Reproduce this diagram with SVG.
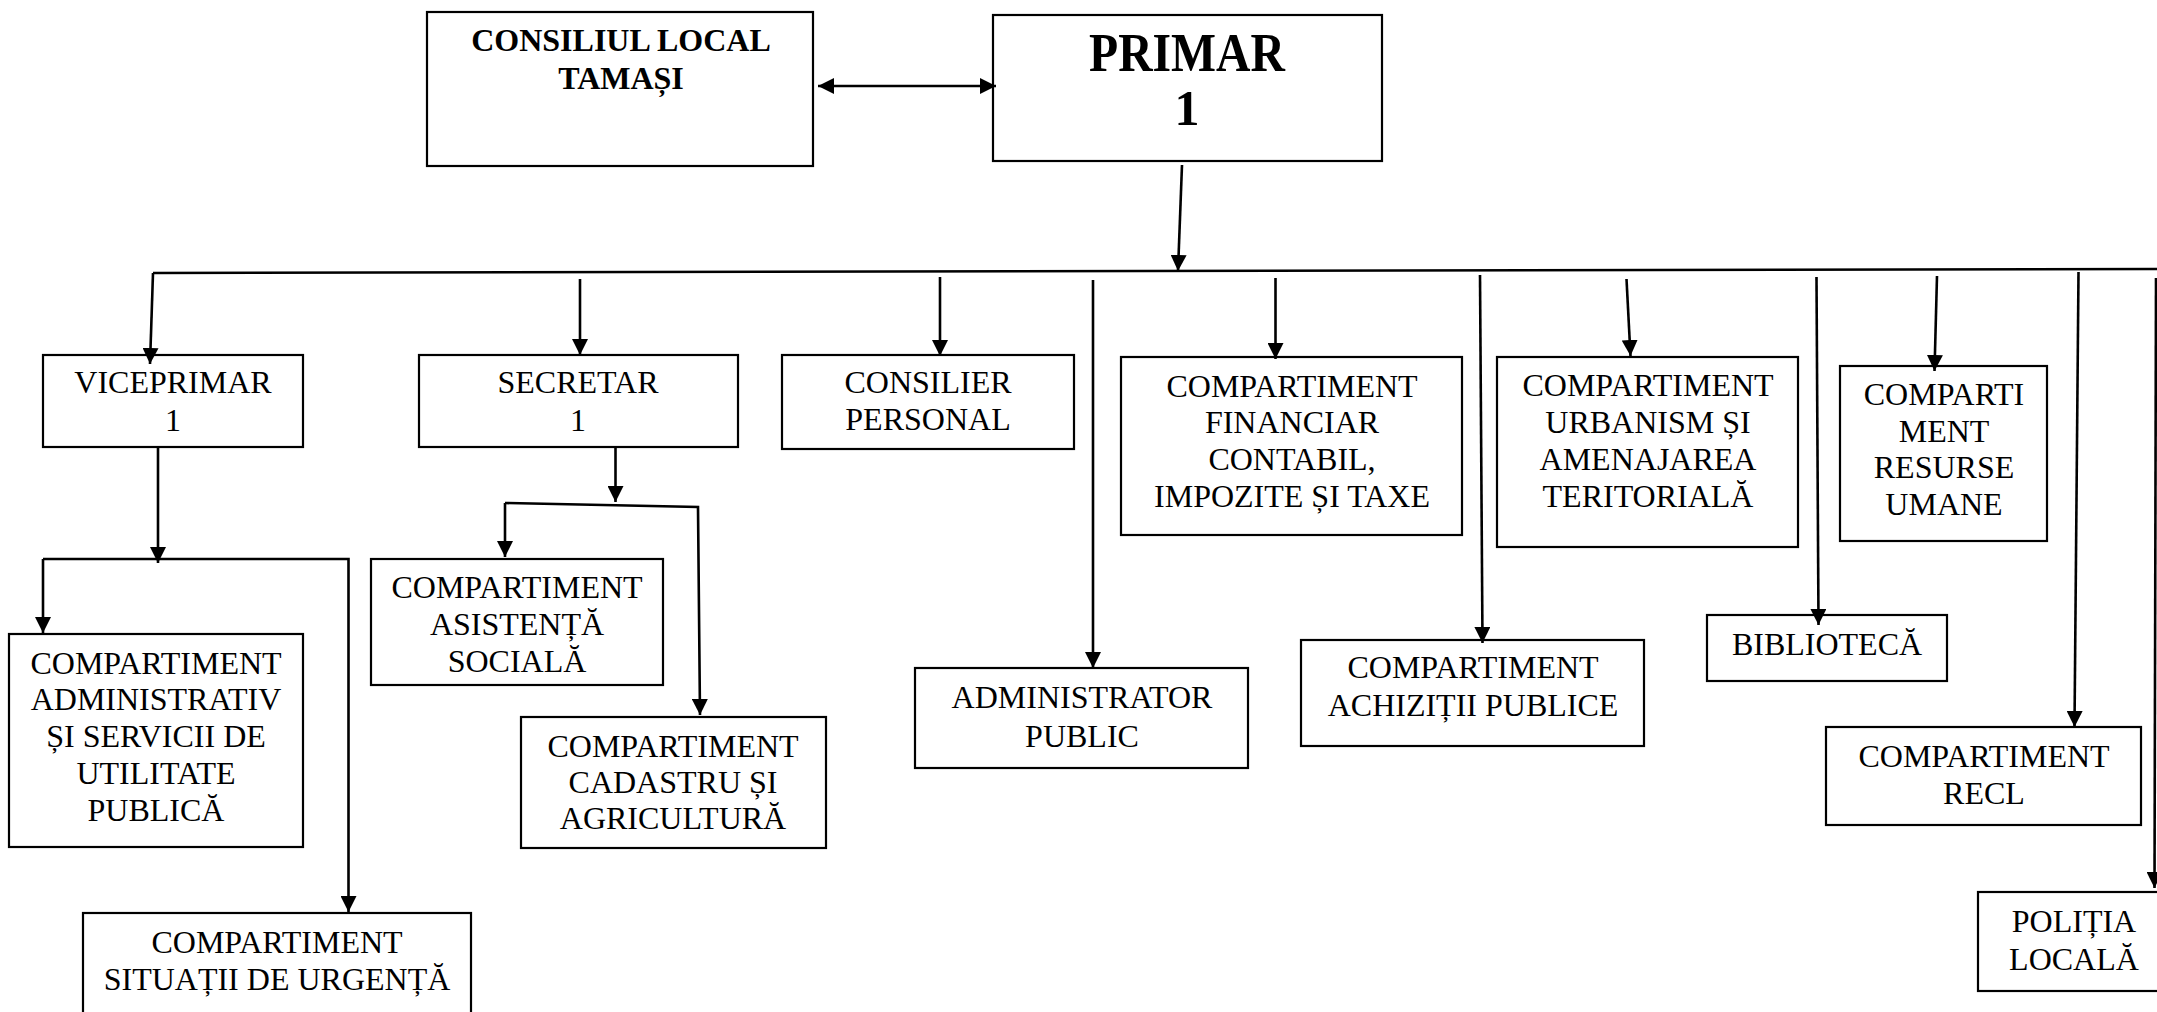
<svg xmlns="http://www.w3.org/2000/svg" width="2157" height="1012" viewBox="0 0 2157 1012">
<style>
.box{fill:#fff;stroke:#000;stroke-width:2.2}
.t{font-family:'Liberation Serif','Times New Roman',serif;font-size:32px;text-anchor:middle;fill:#000}
.b{font-weight:bold}
.c{stroke:#000;stroke-width:2.6;fill:none}
.a{marker-end:url(#ah)}
</style>
<defs>
<marker id="ah" markerUnits="userSpaceOnUse" markerWidth="16" markerHeight="16" refX="15" refY="7.5" orient="auto-start-reverse" viewBox="0 0 15 15">
<path d="M0,0 L15,7.5 L0,15 z" fill="#000"/>
</marker>
</defs>
<rect width="2157" height="1012" fill="#fff"/>

<g id="nodes">
<g id="consiliul">
<rect class="box" x="427" y="12" width="386" height="154"/>
<text class="t b" x="621" y="51">CONSILIUL LOCAL</text>
<text class="t b" x="621" y="89">TAMAȘI</text>
</g>
<g id="primar">
<rect class="box" x="993" y="15" width="389" height="146"/>
<text class="t b" x="1187" y="71" style="font-size:54px" textLength="196" lengthAdjust="spacingAndGlyphs">PRIMAR</text>
<text class="t b" x="1187" y="125" style="font-size:50px">1</text>
</g>
<g id="viceprimar">
<rect class="box" x="43" y="355" width="260" height="92"/>
<text class="t" x="173" y="393">VICEPRIMAR</text>
<text class="t" x="173" y="431">1</text>
</g>
<g id="secretar">
<rect class="box" x="419" y="355" width="319" height="92"/>
<text class="t" x="578" y="393">SECRETAR</text>
<text class="t" x="578" y="431">1</text>
</g>
<g id="consilier">
<rect class="box" x="782" y="355" width="292" height="94"/>
<text class="t" x="928" y="393">CONSILIER</text>
<text class="t" x="928" y="430">PERSONAL</text>
</g>
<g id="financiar">
<rect class="box" x="1121" y="357" width="341" height="178"/>
<text class="t" x="1292" y="397">COMPARTIMENT</text>
<text class="t" x="1292" y="433">FINANCIAR</text>
<text class="t" x="1292" y="470">CONTABIL,</text>
<text class="t" x="1292" y="507">IMPOZITE ȘI TAXE</text>
</g>
<g id="urbanism">
<rect class="box" x="1497" y="357" width="301" height="190"/>
<text class="t" x="1648" y="396">COMPARTIMENT</text>
<text class="t" x="1648" y="433">URBANISM ȘI</text>
<text class="t" x="1648" y="470">AMENAJAREA</text>
<text class="t" x="1648" y="507">TERITORIALĂ</text>
</g>
<g id="resurse">
<rect class="box" x="1840" y="366" width="207" height="175"/>
<text class="t" x="1944" y="405">COMPARTI</text>
<text class="t" x="1944" y="442">MENT</text>
<text class="t" x="1944" y="478">RESURSE</text>
<text class="t" x="1944" y="515">UMANE</text>
</g>
<g id="administrativ">
<rect class="box" x="9" y="634" width="294" height="213"/>
<text class="t" x="156" y="674">COMPARTIMENT</text>
<text class="t" x="156" y="710">ADMINISTRATIV</text>
<text class="t" x="156" y="747">ȘI SERVICII DE</text>
<text class="t" x="156" y="784">UTILITATE</text>
<text class="t" x="156" y="821">PUBLICĂ</text>
</g>
<g id="asistenta">
<rect class="box" x="371" y="559" width="292" height="126"/>
<text class="t" x="517" y="598">COMPARTIMENT</text>
<text class="t" x="517" y="635">ASISTENȚĂ</text>
<text class="t" x="517" y="672">SOCIALĂ</text>
</g>
<g id="cadastru">
<rect class="box" x="521" y="717" width="305" height="131"/>
<text class="t" x="673" y="757">COMPARTIMENT</text>
<text class="t" x="673" y="793">CADASTRU ȘI</text>
<text class="t" x="673" y="829">AGRICULTURĂ</text>
</g>
<g id="situatii">
<rect class="box" x="83" y="913" width="388" height="110"/>
<text class="t" x="277" y="953">COMPARTIMENT</text>
<text class="t" x="277" y="990">SITUAȚII DE URGENȚĂ</text>
</g>
<g id="administrator">
<rect class="box" x="915" y="668" width="333" height="100"/>
<text class="t" x="1082" y="708">ADMINISTRATOR</text>
<text class="t" x="1082" y="747">PUBLIC</text>
</g>
<g id="achizitii">
<rect class="box" x="1301" y="640" width="343" height="106"/>
<text class="t" x="1473" y="678">COMPARTIMENT</text>
<text class="t" x="1473" y="716">ACHIZIȚII PUBLICE</text>
</g>
<g id="biblioteca">
<rect class="box" x="1707" y="615" width="240" height="66"/>
<text class="t" x="1827" y="655">BIBLIOTECĂ</text>
</g>
<g id="recl">
<rect class="box" x="1826" y="727" width="315" height="98"/>
<text class="t" x="1984" y="767">COMPARTIMENT</text>
<text class="t" x="1984" y="804">RECL</text>
</g>
<g id="politia">
<rect class="box" x="1978" y="892" width="192" height="99"/>
<text class="t" x="2074" y="932">POLIȚIA</text>
<text class="t" x="2074" y="970">LOCALĂ</text>
</g>
</g>

<g id="connectors">
<line class="c a" x1="818" y1="86" x2="996" y2="86" style="marker-start:url(#ah)"/>
<line class="c a" x1="1182" y1="165" x2="1178" y2="271"/>
<line class="c" x1="153" y1="273" x2="2160" y2="269"/>
<line class="c a" x1="153" y1="273" x2="150" y2="364"/>
<line class="c a" x1="580" y1="279" x2="580" y2="355"/>
<line class="c a" x1="940" y1="277" x2="940" y2="356"/>
<line class="c a" x1="1093" y1="280" x2="1093" y2="668"/>
<line class="c a" x1="1275.5" y1="278" x2="1275.5" y2="359"/>
<line class="c a" x1="1480" y1="275" x2="1482.5" y2="643"/>
<line class="c a" x1="1626.5" y1="279" x2="1630.5" y2="356"/>
<line class="c a" x1="1816.5" y1="277" x2="1818.5" y2="625"/>
<line class="c a" x1="1937" y1="276" x2="1934.5" y2="371"/>
<line class="c a" x1="2078.5" y1="272" x2="2074.5" y2="727"/>
<line class="c a" x1="2156" y1="278" x2="2154.5" y2="888"/>
<line class="c a" x1="158" y1="447" x2="158" y2="563"/>
<path class="c a" d="M43,559 L43,633"/>
<path class="c a" d="M43,559 L348.5,559 L348.5,912"/>
<line class="c a" x1="615.5" y1="447" x2="615.5" y2="502"/>
<path class="c a" d="M505,503 L505,557"/>
<path class="c a" d="M505,503 L698,507 L700,715"/>
</g>
</svg>
